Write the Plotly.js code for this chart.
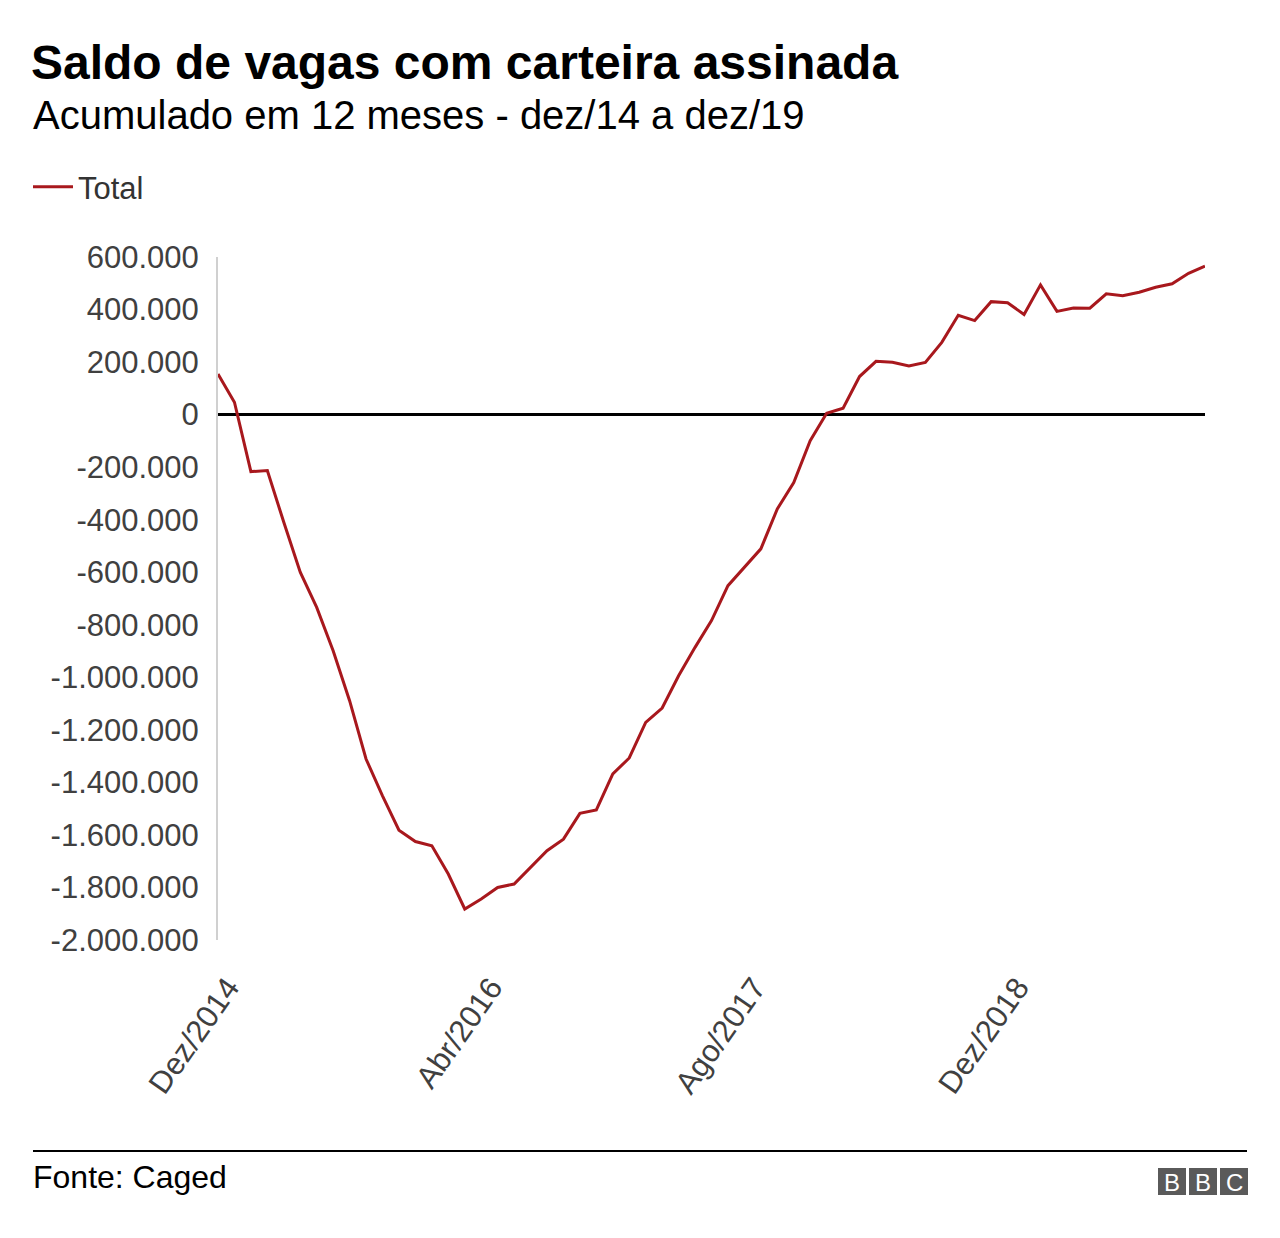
<!DOCTYPE html>
<html>
<head>
<meta charset="utf-8">
<script src="https://cdn.plot.ly/plotly-3.0.1.min.js"></script>
<style>
  html, body { margin: 0; padding: 0; background: #fff; }
  #chart { width: 1280px; height: 1238px; }
</style>
</head>
<body>
<div id="chart"></div>
<script>
// Month labels, Dez/2014 .. Dez/2019
const monthNames = ["Jan","Fev","Mar","Abr","Mai","Jun","Jul","Ago","Set","Out","Nov","Dez"];
const months = ["Dez/2014"];
for (let y = 2015; y <= 2019; y++) {
  for (let m = 0; m < 12; m++) months.push(monthNames[m] + "/" + y);
}

// Saldo acumulado em 12 meses
const total = [
  155000, 47000, -217000, -213000, -410000, -600000, -734000, -899000, -1089000, -1311000,
  -1451000, -1582000, -1625000, -1641000, -1749000, -1882000, -1844000, -1800000, -1787000, -1724000,
  -1660000, -1616000, -1518000, -1505000, -1368000, -1307000, -1172000, -1117000, -994000, -886000,
  -784000, -651000, -581000, -511000, -359000, -259000, -99000, 5000, 24000, 145000,
  203000, 199000, 185000, 199000, 275000, 378000, 358000, 430000, 426000, 381000,
  494000, 393000, 406000, 405000, 460000, 453000, 466000, 485000, 498000, 538000,
  565000
];

const xTickVals = ["Dez/2014", "Abr/2016", "Ago/2017", "Dez/2018"];
const yTickVals = [600000, 400000, 200000, 0, -200000, -400000, -600000, -800000, -1000000,
  -1200000, -1400000, -1600000, -1800000, -2000000];
const yTickText = ["600.000", "400.000", "200.000", "0", "-200.000", "-400.000", "-600.000",
  "-800.000", "-1.000.000", "-1.200.000", "-1.400.000", "-1.600.000", "-1.800.000", "-2.000.000"];

const FONT = "Liberation Sans, Arial, Helvetica, sans-serif";
const W = 1280, H = 1238;
const L = 218, R = 75, T = 257, B = 298;
const pw = W - L - R, ph = H - T - B;
const px = v => (v - L) / pw;        // pixel x -> paper x
const py = v => (H - B - v) / ph;    // pixel y -> paper y

const trace = {
  x: months,
  y: total,
  type: "scatter",
  mode: "lines",
  name: "Total",
  line: { color: "#a8181d", width: 3 },
  hoverinfo: "skip"
};

const logoBoxes = [[1158, 1186], [1189, 1217], [1220, 1248]];
const shapes = [
  { type: "line", xref: "paper", yref: "paper", x0: px(33), x1: px(1247), y0: py(1151), y1: py(1151),
    line: { color: "#000", width: 2 } }
];
const logoLetters = ["B", "B", "C"];
const annotations = [
  { xref: "paper", yref: "paper", x: px(31), y: py(115), xanchor: "left", yanchor: "middle",
    text: "Acumulado em 12 meses - dez/14 a dez/19", showarrow: false,
    font: { family: FONT, size: 40, color: "#000" } },
  { xref: "paper", yref: "paper", x: px(31), y: py(1177), xanchor: "left", yanchor: "middle",
    text: "Fonte: Caged", showarrow: false,
    font: { family: FONT, size: 32, color: "#000" } }
];
logoBoxes.forEach((b, i) => {
  shapes.push({ type: "rect", xref: "paper", yref: "paper", x0: px(b[0]), x1: px(b[1]),
    y0: py(1195), y1: py(1168), fillcolor: "#5a5a5a", line: { width: 0 } });
  annotations.push({ xref: "paper", yref: "paper", x: px((b[0] + b[1]) / 2), y: py(1182),
    xanchor: "center", yanchor: "middle", text: logoLetters[i], showarrow: false,
    font: { family: FONT, size: 24, color: "#fff" } });
});

const layout = {
  width: W, height: H,
  margin: { l: L, r: R, t: T, b: B },
  paper_bgcolor: "#fff", plot_bgcolor: "#fff",
  font: { family: FONT, color: "#404040" },
  title: {
    text: "<b>Saldo de vagas com carteira assinada</b>",
    xref: "container", yref: "container",
    x: 31 / W, y: 1 - 62 / H, xanchor: "left", yanchor: "middle",
    font: { family: FONT, size: 48, color: "#000" }
  },
  showlegend: true,
  legend: {
    xref: "container", yref: "container",
    x: 28 / W, y: 1 - 187 / H, xanchor: "left", yanchor: "middle",
    orientation: "h",
    font: { family: FONT, size: 31, color: "#333" },
    itemwidth: 40
  },
  xaxis: {
    type: "category",
    range: [0, months.length - 1],
    tickmode: "array",
    tickvals: xTickVals,
    ticktext: xTickVals,
    tickangle: -55,
    showgrid: false, zeroline: false, showline: false,
    ticks: "",
    ticklabelstandoff: 22,
    ticklabelshift: 10,
    tickfont: { family: FONT, size: 31, color: "#404040" }
  },
  yaxis: {
    range: [-2000000, 600000],
    tickmode: "array",
    tickvals: yTickVals,
    ticktext: yTickText,
    showgrid: false,
    zeroline: true, zerolinecolor: "#000", zerolinewidth: 3,
    showline: true, linecolor: "#d0d0d0", linewidth: 2,
    ticks: "",
    ticklabelstandoff: 11,
    tickfont: { family: FONT, size: 31, color: "#404040" }
  },
  shapes: shapes,
  annotations: annotations
};

Plotly.newPlot("chart", [trace], layout, { displayModeBar: false, staticPlot: true });
</script>
</body>
</html>
